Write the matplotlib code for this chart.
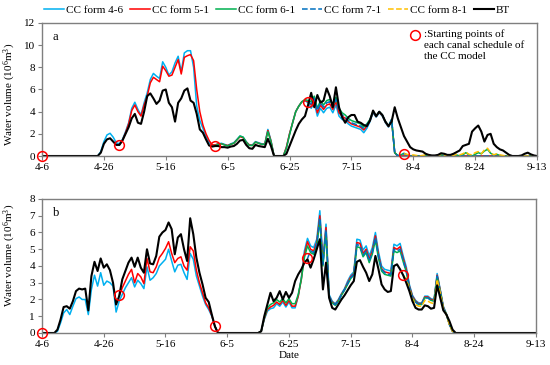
import matplotlib
matplotlib.use('Agg')
import matplotlib.pyplot as plt
import numpy as np

plt.rcParams['font.family'] = ['Liberation Serif', 'DejaVu Serif']
plt.rcParams['mathtext.fontset'] = 'custom'
plt.rcParams['mathtext.rm'] = 'Liberation Serif'
plt.rcParams['mathtext.it'] = 'Liberation Serif:italic'
plt.rcParams['mathtext.bf'] = 'Liberation Serif:bold'

# x axis: day index from 4-6 (0) to 9-13 (160)
tick_days = [0, 20, 40, 60, 80, 100, 120, 140, 160]
tick_labels = ['4-6', '4-26', '5-16', '6-5', '6-25', '7-15', '8-4', '8-24', '9-13']
labels = ['CC form 4-6', 'CC form 5-1', 'CC form 6-1', 'CC form 7-1', 'CC form 8-1', 'BT']
start_days = [0, 25, 56, 86, 117]

# ---------------- panel a ----------------
bt_a = ([0.0] * 10 +
        [0, 0, 0, 0, 0, 0, 0, 0, 0, 0.3] +
        [1.1, 1.5, 1.6, 1.3, 1.0, 1.0, 1.4, 2.0, 2.6, 3.4] +
        [3.8, 3.0, 2.9, 4.0, 5.4, 5.65, 5.2, 4.7, 5.0, 5.9] +
        [6.0, 4.8, 4.4, 3.1, 4.8, 5.2, 5.9, 6.1, 5.0, 4.8] +
        [3.8, 2.4, 2.1, 1.5, 0.95, 0.85, 0.9, 0.9, 0.8, 0.8] +
        [0.75, 0.85, 0.9, 1.1, 1.4, 1.45, 1.0, 0.7, 0.65, 1.0] +
        [0.9, 0.85, 0.8, 1.55, 0.9, 0, 0, 0, 0, 0.2] +
        [0.9, 1.6, 2.3, 2.9, 3.3, 3.6, 4.6, 5.7, 4.4, 5.5] +
        [4.8, 5.0, 6.1, 5.4, 4.4, 6.2, 4.4, 3.5, 3.0, 3.5] +
        [3.7, 3.7, 3.1, 3.0, 2.8, 2.7, 3.2, 4.1, 3.6, 4.0] +
        [3.7, 3.1, 2.7, 3.1, 4.4, 3.4, 2.6, 1.8, 1.3, 0.8] +
        [0.6, 0.5, 0.45, 0.4, 0.2, 0.1, 0.05, 0.05, 0.1, 0.25] +
        [0.2, 0.1, 0.1, 0.2, 0.35, 0.5, 0.9, 1.0, 1.1, 2.2] +
        [2.5, 2.75, 2.2, 1.3, 1.9, 2.0, 1.1, 0.8, 0.6, 0.5] +
        [0.3, 0.1, 0, 0, 0, 0.05, 0.2, 0.3, 0.15, 0.05] +
        [0])

cc46_a = ([0.0] * 10 +
          [0, 0, 0, 0, 0, 0, 0, 0, 0, 0.4] +
          [1.3, 1.9, 2.05, 1.7, 1.2, 1.1, 1.5, 2.2, 3.0, 4.3] +
          [4.85, 4.2, 3.7, 4.8, 5.7, 6.9, 7.45, 7.2, 7.0, 8.5] +
          [8.0, 7.3, 7.6, 8.4, 9.0, 7.6, 9.3, 9.5, 9.5, 8.0] +
          [4.5, 3.2, 2.5, 1.8, 1.2, 1.0, 1.0, 1.1, 1.15, 1.05] +
          [0.95, 1.1, 1.2, 1.5, 1.8, 1.7, 1.3, 1.0, 1.0, 1.3] +
          [1.2, 1.1, 1.1, 2.4, 1.4, 0, 0, 0, 0, 0.8] +
          [2.0, 3.0, 4.0, 4.5, 4.9, 5.0, 4.8, 4.3, 4.8, 3.6] +
          [4.3, 3.9, 4.3, 4.4, 3.9, 4.6, 3.6, 3.3, 3.2, 2.9] +
          [2.7, 2.6, 2.5, 2.4, 2.1, 2.5, 3.1, 3.9, 3.5, 3.9] +
          [3.6, 3.0, 2.6, 3.2, 0.3, 0, 0, 0, 0, 0] +
          [0.0] * 41)

cc51_a = ([1.0, 1.4, 2.1, 2.9, 4.1] +
          [4.6, 4.0, 3.6, 4.6, 5.4, 6.6, 7.1, 6.9, 6.7, 8.1] +
          [7.7, 7.2, 7.3, 8.0, 8.7, 7.4, 8.9, 9.05, 9.15, 8.6] +
          [6.0, 4.0, 2.8, 2.0, 1.4, 1.0, 1.0, 1.1, 1.1, 1.0] +
          [0.95, 1.05, 1.15, 1.45, 1.75, 1.65, 1.25, 1.0, 0.95, 1.25] +
          [1.15, 1.05, 1.05, 2.3, 1.35, 0, 0, 0, 0, 0.8] +
          [2.0, 3.0, 4.0, 4.5, 4.9, 5.0, 4.9, 4.6, 5.1, 3.9] +
          [4.6, 4.2, 4.6, 4.7, 4.2, 4.9, 3.9, 3.6, 3.4, 3.1] +
          [2.9, 2.8, 2.7, 2.6, 2.35, 2.7, 3.2, 3.95, 3.55, 3.95] +
          [3.65, 3.05, 2.65, 3.25, 0.3, 0, 0, 0, 0, 0] +
          [0.0] * 41)

cc61_a = ([0.95, 1.05, 1.1, 1.0] +
          [0.9, 1.05, 1.15, 1.45, 1.8, 1.7, 1.25, 0.95, 0.95, 1.25] +
          [1.15, 1.05, 1.05, 2.2, 1.3, 0, 0, 0, 0, 0.7] +
          [1.9, 3.0, 4.0, 4.5, 4.9, 5.1, 5.0, 4.9, 5.4, 4.3] +
          [5.0, 4.6, 5.0, 5.1, 4.6, 5.3, 4.3, 3.9, 3.7, 3.4] +
          [3.2, 3.1, 3.0, 2.9, 2.6, 2.9, 3.3, 4.0, 3.6, 4.0] +
          [3.7, 3.1, 2.7, 3.3, 0.3, 0.05, 0.1, 0.25, 0.1, 0] +
          [0, 0, 0, 0, 0.05, 0, 0, 0, 0, 0.1] +
          [0.05, 0, 0, 0, 0.1, 0, 0.1, 0.3, 0.1, 0] +
          [0.15, 0.3, 0.2, 0.45, 0.6, 0.25, 0.1, 0.15, 0.05, 0] +
          [0.0] * 11)

cc71_a = ([4.9, 4.7, 5.2, 4.1] +
          [4.8, 4.4, 4.8, 4.9, 4.4, 5.1, 4.1, 3.7, 3.5, 3.2] +
          [3.0, 2.9, 2.8, 2.7, 2.45, 2.8, 3.25, 4.0, 3.55, 4.0] +
          [3.7, 3.1, 2.7, 3.3, 0.3, 0, 0.05, 0.2, 0.05, 0] +
          [0.0] * 41)

cc81_a = ([0.2, 0.15, 0.05] +
          [0.1, 0.05, 0, 0.05, 0.1, 0.05, 0, 0, 0.05, 0.15] +
          [0.1, 0, 0, 0.05, 0.15, 0.1, 0.2, 0.35, 0.15, 0.1] +
          [0.3, 0.4, 0.2, 0.55, 0.7, 0.3, 0.1, 0.2, 0.1, 0.05] +
          [0.0] * 11)

mark_a = [0, 1.0, 0.9, 4.9, 0.2]

# ---------------- panel b ----------------
bt_b = ([0, 0, 0, 0, 0, 0.2, 0.8, 1.55, 1.6, 1.45] +
        [1.9, 2.5, 2.65, 2.6, 2.65, 1.35, 3.4, 4.25, 3.7, 4.45] +
        [3.9, 4.1, 3.75, 3.0, 1.7, 2.2, 3.2, 3.7, 4.2, 4.5] +
        [3.95, 4.5, 3.9, 3.6, 5.0, 4.15, 4.1, 4.6, 5.75, 6.0] +
        [6.15, 6.6, 6.2, 4.7, 5.7, 5.9, 5.0, 4.3, 6.85, 5.9] +
        [4.5, 3.6, 2.9, 2.1, 1.85, 1.1, 0.4, 0, 0, 0] +
        [0.0] * 10 +
        [0, 0.1, 1.0, 1.7, 2.4, 1.9, 2.1, 2.5, 2.0, 2.45] +
        [2.1, 2.4, 3.1, 3.5, 3.8, 4.2, 4.4, 3.9, 4.4, 5.0] +
        [5.6, 2.6, 4.2, 2.1, 1.5, 1.4, 1.7, 2.0, 2.25, 2.55] +
        [2.85, 3.1, 4.25, 4.35, 3.95, 3.6, 3.1, 3.5, 4.6, 3.8] +
        [2.9, 2.6, 2.45, 2.5, 4.0, 4.1, 3.8, 3.45, 3.0, 2.5] +
        [1.9, 1.5, 1.4, 1.4, 1.65, 1.6, 1.45, 1.5, 2.85, 2.1] +
        [1.35, 1.1, 0.7, 0.2, 0, 0, 0, 0, 0, 0] +
        [0.0] * 21)

cc46_b = ([0, 0, 0, 0, 0, 0.1, 0.6, 1.2, 1.4, 1.1] +
          [1.6, 2.05, 2.15, 2.0, 2.0, 1.1, 2.6, 3.45, 2.8, 3.6] +
          [2.85, 3.1, 3.0, 2.8, 1.25, 1.9, 2.3, 2.7, 3.0, 3.3] +
          [2.75, 3.15, 2.95, 2.65, 3.95, 3.15, 3.3, 3.55, 4.0, 4.2] +
          [4.4, 5.0, 4.3, 3.65, 4.05, 4.1, 3.6, 3.2, 4.75, 4.4] +
          [3.4, 2.8, 2.2, 1.7, 1.4, 1.0, 0.4, 0, 0, 0] +
          [0.0] * 10 +
          [0, 0.1, 0.8, 1.3, 1.45, 1.5, 1.75, 1.6, 1.85, 1.55] +
          [1.85, 1.5, 1.5, 2.2, 3.3, 4.9, 5.65, 5.2, 5.1, 5.6] +
          [7.3, 4.4, 6.5, 2.3, 1.9, 1.75, 2.0, 2.35, 2.65, 3.1] +
          [3.45, 3.65, 5.6, 5.55, 4.95, 5.2, 4.6, 5.1, 6.0, 4.85] +
          [4.0, 3.8, 3.75, 3.7, 5.3, 5.2, 5.35, 4.6, 3.95, 2.9] +
          [2.25, 1.95, 1.8, 1.8, 2.2, 2.2, 2.05, 2.0, 3.55, 2.6] +
          [1.6, 1.15, 0.55, 0.1, 0, 0, 0, 0, 0, 0] +
          [0.0] * 21)

cc51_b = ([2.2, 2.7, 3.1, 3.5, 3.8] +
          [3.0, 3.55, 3.35, 2.95, 4.45, 3.65, 3.6, 3.95, 4.5, 4.75] +
          [5.05, 5.45, 4.75, 4.2, 4.45, 4.55, 4.0, 3.75, 5.15, 4.9] +
          [3.75, 3.0, 2.4, 1.8, 1.5, 1.05, 0.4, 0, 0, 0] +
          [0.0] * 10 +
          [0, 0.1, 0.85, 1.4, 1.55, 1.65, 1.85, 1.7, 1.95, 1.65] +
          [1.95, 1.6, 1.6, 2.2, 3.2, 4.7, 5.45, 5.0, 4.9, 5.4] +
          [7.0, 4.2, 6.3, 2.2, 1.85, 1.7, 1.95, 2.3, 2.6, 3.0] +
          [3.35, 3.55, 5.4, 5.35, 4.75, 5.0, 4.4, 4.9, 5.8, 4.65] +
          [3.85, 3.65, 3.6, 3.55, 5.1, 5.0, 5.15, 4.45, 3.8, 2.8] +
          [2.2, 1.9, 1.75, 1.75, 2.15, 2.15, 2.0, 1.95, 3.45, 2.55] +
          [1.55, 1.1, 0.5, 0.1, 0, 0, 0, 0, 0, 0] +
          [0.0] * 21)

cc61_b = ([0.4, 0, 0, 0] +
          [0.0] * 10 +
          [0, 0.1, 0.9, 1.5, 1.7, 1.8, 2.0, 1.85, 2.05, 1.8] +
          [2.05, 1.75, 1.75, 2.3, 3.2, 4.5, 5.2, 4.8, 4.7, 5.2] +
          [6.7, 4.0, 6.0, 2.15, 1.8, 1.65, 1.9, 2.25, 2.55, 2.9] +
          [3.25, 3.45, 5.15, 5.1, 4.55, 4.8, 4.2, 4.7, 5.55, 4.45] +
          [3.7, 3.5, 3.45, 3.4, 4.9, 4.8, 4.9, 4.25, 3.65, 2.7] +
          [2.1, 1.85, 1.7, 1.7, 2.1, 2.1, 1.95, 1.9, 3.35, 2.5] +
          [1.5, 1.1, 0.5, 0.1, 0, 0, 0, 0, 0, 0] +
          [0.0] * 21)

cc71_b = ([4.45, 4.9, 4.8, 5.3] +
          [6.85, 4.1, 6.15, 2.2, 1.8, 1.7, 1.9, 2.3, 2.6, 2.95] +
          [3.3, 3.5, 5.3, 5.2, 4.65, 4.9, 4.3, 4.8, 5.7, 4.55] +
          [3.8, 3.6, 3.5, 3.5, 5.0, 4.9, 5.0, 4.35, 3.7, 2.75] +
          [2.15, 1.85, 1.7, 1.75, 2.1, 2.1, 1.95, 1.9, 3.4, 2.5] +
          [1.5, 1.1, 0.5, 0.1, 0, 0, 0, 0, 0, 0] +
          [0.0] * 21)

cc81_b = ([3.45, 3.2, 2.6] +
          [2.05, 1.7, 1.6, 1.6, 1.95, 1.9, 1.8, 1.75, 3.2, 2.4] +
          [1.45, 1.1, 0.5, 0.1, 0, 0, 0, 0, 0, 0] +
          [0.0] * 21)

mark_b = [0, 2.25, 0.4, 4.45, 3.45]

colors = ['#00B0F0', '#FF0000', '#00B050', '#0070C0', '#FFC000', 'black']
styles = ['-', '-', '-', '--', '--', '-']
widths = [1.1, 1.1, 1.1, 1.1, 1.1, 1.5]

fig = plt.figure(figsize=(5.5, 3.65), dpi=100)
ax1 = fig.add_axes([0.0764, 0.5726, 0.9, 0.3644])
ax2 = fig.add_axes([0.0764, 0.0877, 0.898, 0.3671])

panels = [
    (ax1, [cc46_a, cc51_a, cc61_a, cc71_a, cc81_a, bt_a], mark_a, 12, 2, 'a', 0.46),
    (ax2, [cc46_b, cc51_b, cc61_b, cc71_b, cc81_b, bt_b], mark_b, 8, 1, 'b', 0.58),
]

for ax, series, marks, ymax, ystep, letter, ylab_y in panels:
    starts = start_days + [0]
    for vals, s, c, ls, lw, lab in zip(series, starts, colors, styles, widths, labels):
        x = np.arange(s, s + len(vals))
        ax.plot(x, vals, color=c, ls=ls, lw=lw, label=lab)
    ax.plot(start_days, marks, 'o', mfc='none', mec='red', ms=7, mew=1.1,
            clip_on=False, zorder=5)
    ax.set_xlim(0, 160)
    ax.set_ylim(0, ymax)
    ax.set_xticks(tick_days)
    ax.set_xticklabels(tick_labels)
    ax.set_yticks(np.arange(0, ymax + 1, ystep))
    ax.tick_params(labelsize=8, direction='out', length=3, width=0.8, color='#7f7f7f', pad=2)
    for sp in ax.spines.values():
        sp.set_color('#7f7f7f')
        sp.set_linewidth(1.0)
    ax.set_ylabel('Water volume (10$^6$m$^3$)', fontsize=8)
    ax.yaxis.set_label_coords(-0.048, ylab_y)
    ax.text(0.022, 0.895, letter, transform=ax.transAxes, fontsize=9, va='center')

ax2.set_xlabel('Date', fontsize=8)
ax2.xaxis.set_label_coords(0.5, -0.135)

# note in panel a
ax1.plot([0.754], [0.91], 'o', mfc='none', mec='red', ms=7, mew=1.1, transform=ax1.transAxes)
ax1.text(0.772, 0.95, ':Starting points of\neach canal schedule of\nthe CC model',
         transform=ax1.transAxes, fontsize=8, va='top', ha='left', linespacing=1.25)

h, l = ax1.get_legend_handles_labels()
fig.legend(h[:6], l[:6], loc='center', bbox_to_anchor=(0.504, 0.972), ncol=6,
           frameon=False, fontsize=8, handlelength=1.8, handletextpad=0.2,
           columnspacing=0.6, borderaxespad=0)

fig.savefig('out.png', dpi=100)
